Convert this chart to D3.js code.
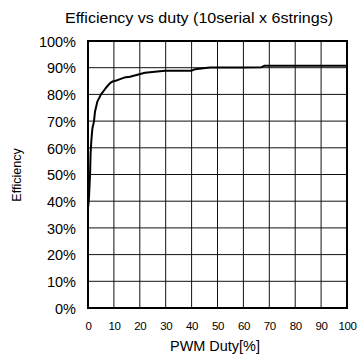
<!DOCTYPE html>
<html>
<head>
<meta charset="utf-8">
<script src="https://cdn.jsdelivr.net/npm/d3@7"></script>
<style>
  html, body { margin: 0; padding: 0; background: #fff; }
  svg { display: block; font-family: "Liberation Sans", Arial, sans-serif; }
</style>
</head>
<body>
<svg id="chart" width="358" height="356"></svg>
<script>
// Efficiency measured against PWM duty (10 in series x 6 strings)
const dutyPct = [0.1, 0.4, 0.8, 1.0, 1.3, 1.7, 2.3, 2.7, 3.6, 4.9, 6.8, 8.5, 9.4, 11, 12.4, 14, 16.2, 22, 29.7, 40, 41.3, 47.1, 58.7, 67, 68, 100];
const efficiencyPct = [38, 41.7, 50.4, 57.9, 62.9, 67.3, 69.8, 73.5, 77.3, 79.8, 82.3, 84.2, 84.8, 85.2, 85.7, 86.3, 86.6, 88.1, 88.9, 88.9, 89.4, 90.1, 90.1, 90.2, 90.7, 90.7];
const xTicks = [0, 10, 20, 30, 40, 50, 60, 70, 80, 90, 100];
const yTicks = [0, 10, 20, 30, 40, 50, 60, 70, 80, 90, 100];

const titleText = "Efficiency vs duty (10serial x 6strings)";
const xTitle = "PWM Duty[%]";
const yTitle = "Efficiency";

const plot = { left: 88, right: 347, top: 41, bottom: 308 };

const svg = d3.select("#chart");

const x = d3.scaleLinear().domain([0, 100]).range([plot.left, plot.right]);
const y = d3.scaleLinear().domain([0, 100]).range([plot.bottom, plot.top]);

// grid
const grid = svg.append("g").attr("stroke", "#111").attr("stroke-width", 1);
grid.selectAll("line.v").data(xTicks).join("line")
  .attr("x1", d => x(d)).attr("x2", d => x(d))
  .attr("y1", plot.top).attr("y2", plot.bottom);
grid.selectAll("line.h").data(yTicks).join("line")
  .attr("y1", d => y(d)).attr("y2", d => y(d))
  .attr("x1", plot.left).attr("x2", plot.right);

// frame
svg.append("rect")
  .attr("x", plot.left).attr("y", plot.top)
  .attr("width", plot.right - plot.left).attr("height", plot.bottom - plot.top)
  .attr("fill", "none").attr("stroke", "#000").attr("stroke-width", 2);

// efficiency curve
const line = d3.line().x((d, i) => x(dutyPct[i])).y(d => y(d));
svg.append("path")
  .datum(efficiencyPct)
  .attr("d", line)
  .attr("fill", "none")
  .attr("stroke", "#000")
  .attr("stroke-width", 2)
  .attr("stroke-linejoin", "round");

// axes labels
const xAxis = d3.axisBottom(x).tickValues(xTicks).tickSize(0).tickPadding(0).tickFormat(d3.format("d"));
const gx = svg.append("g").attr("transform", `translate(0,${plot.bottom + 22})`).call(xAxis);
gx.select(".domain").remove();
gx.selectAll("text").attr("font-size", 11.5).attr("fill", "#000")
  .attr("font-family", "Liberation Sans, Arial, sans-serif").attr("dy", 0).attr("y", 0)
  .attr("letter-spacing", -0.4);

const yAxis = d3.axisLeft(y).tickValues(yTicks).tickSize(0).tickPadding(0).tickFormat(d => d + "%");
const gy = svg.append("g").attr("transform", `translate(${plot.left - 12},0)`).call(yAxis);
gy.select(".domain").remove();
gy.selectAll("text").attr("font-size", 14.5).attr("fill", "#000")
  .attr("font-family", "Liberation Sans, Arial, sans-serif").attr("dy", "0.36em").attr("x", 0);

// titles
svg.append("text")
  .attr("x", 65).attr("y", 23)
  .attr("font-size", 14.5)
  .attr("textLength", 268).attr("lengthAdjust", "spacingAndGlyphs")
  .text(titleText);

svg.append("text")
  .attr("x", 170).attr("y", 351)
  .attr("font-size", 14.5)
  .attr("textLength", 90).attr("lengthAdjust", "spacingAndGlyphs")
  .text(xTitle);

svg.append("text")
  .attr("transform", "translate(21,175) rotate(-90)")
  .attr("text-anchor", "middle")
  .attr("font-size", 12.5)
  .text(yTitle);
</script>
</body>
</html>
